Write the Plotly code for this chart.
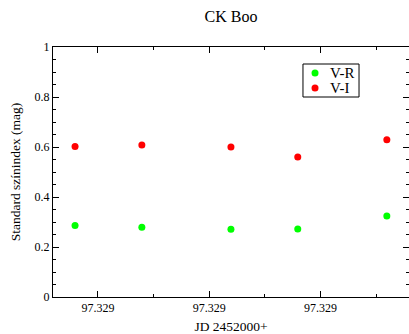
import plotly.graph_objects as go

# JD - 2452000
jd = [97.328759, 97.328879, 97.329039, 97.329159, 97.329319]
v_r = [0.286, 0.279, 0.271, 0.272, 0.324]
v_i = [0.602, 0.608, 0.600, 0.560, 0.629]
series_names = ["V-R", "V-I"]
series_colors = ["#00ff00", "#ff0000"]

x_range = [97.3287194, 97.3293588]
y_range = [0, 1]

serif = "Liberation Serif"

fig = go.Figure()
for name, vals, col in zip(series_names, [v_r, v_i], series_colors):
    fig.add_trace(go.Scatter(x=jd, y=vals, mode="markers", name=name, showlegend=False,
                             marker=dict(color=col, size=7)))

# custom legend (box, markers on an overlay 0..1 axis, labels)
leg_x0, leg_x1, leg_y0, leg_y1 = 0.7022, 0.8596, 0.800, 0.932
leg_rows = [0.896, 0.836]
fig.add_shape(type="rect", xref="paper", yref="paper", x0=leg_x0, x1=leg_x1,
              y0=leg_y0, y1=leg_y1, line=dict(color="black", width=1),
              fillcolor="white", layer="below")
fig.add_trace(go.Scatter(x=[0.736] * len(series_names), y=leg_rows, mode="markers",
                         xaxis="x2", yaxis="y2", showlegend=False, hoverinfo="skip",
                         marker=dict(color=series_colors, size=7)))
for name, yy in zip(series_names, leg_rows):
    fig.add_annotation(x=0.7725, y=yy, xref="paper", yref="paper", text=name,
                       showarrow=False, xanchor="left", yanchor="middle",
                       font=dict(family=serif, size=15, color="black"))

axis_common = dict(showgrid=False, zeroline=False, showline=True, linecolor="black",
                   linewidth=1, mirror="ticks", ticks="inside", ticklen=6, tickwidth=1,
                   tickcolor="black", tickfont=dict(family=serif, size=12, color="black"))

fig.update_layout(
    width=409, height=334,
    margin=dict(l=53, r=0, t=47, b=37),
    paper_bgcolor="white", plot_bgcolor="white",
    font=dict(family=serif, size=12, color="black"),
    title=dict(text="CK Boo", x=0.5, xref="paper", xanchor="center",
               y=0.95, yref="container", yanchor="middle",
               font=dict(family=serif, size=16, color="black")),
    showlegend=False,
    xaxis=dict(range=x_range, dtick=0.0002, tick0=97.3288, tickformat=".3f",
               minor=dict(dtick=0.0001, ticks="inside", ticklen=3, tickcolor="black"),
               title=dict(text="JD 2452000+", standoff=7,
                          font=dict(family=serif, size=13.5, color="black")),
               **axis_common),
    yaxis=dict(range=y_range, dtick=0.2, tick0=0,
               minor=dict(dtick=0.05, ticks="inside", ticklen=3, tickcolor="black"),
               title=dict(text="Standard színindex (mag)", standoff=10,
                          font=dict(family=serif, size=13.5, color="black")),
               **axis_common),
    xaxis2=dict(range=[0, 1], overlaying="x", visible=False, fixedrange=True),
    yaxis2=dict(range=[0, 1], overlaying="y", visible=False, fixedrange=True),
)

fig.write_html("out.html")
